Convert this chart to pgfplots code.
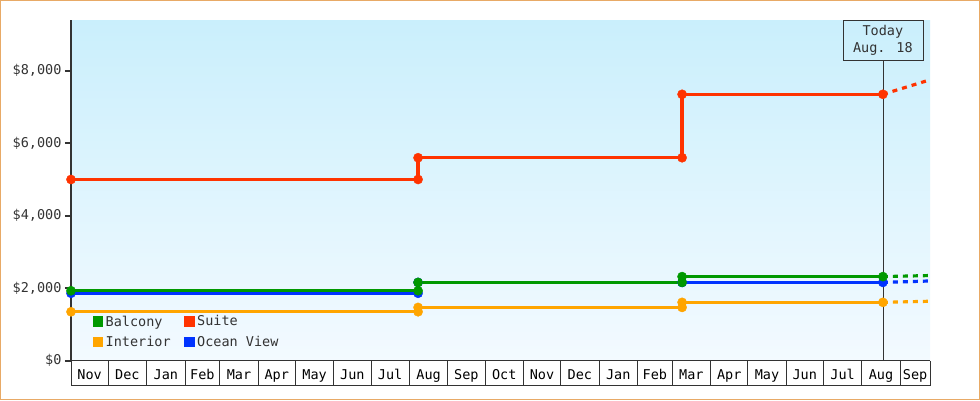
\documentclass[border=0pt]{standalone}
\usepackage{fontspec}
\setmainfont{DejaVu Sans Mono}
\usepackage{pgfplots}
\pgfplotsset{compat=1.18}

\definecolor{balcony}{HTML}{009900}
\definecolor{suite}{HTML}{FF3300}
\definecolor{interior}{HTML}{FFA500}
\definecolor{ocean}{HTML}{0033FF}
\definecolor{axisgray}{HTML}{333333}
\definecolor{bgtop}{HTML}{CAEFFC}
\definecolor{bgbot}{HTML}{F3FAFF}
\definecolor{frame}{HTML}{E8AA66}

\newcommand{\lblfont}{\fontsize{13.5pt}{17pt}\selectfont}

\begin{document}
\begin{tikzpicture}
\useasboundingbox (-71pt,-39.3pt) rectangle (909pt,360.7pt);
\fill[white] (-71pt,-39.3pt) rectangle (909pt,360.7pt);
\draw[frame, line width=1.5pt] (-70.25pt,-38.55pt) rectangle (908.25pt,359.95pt);
\begin{axis}[
  name=ax, at={(0,0)}, anchor=south west,
  scale only axis, width=859pt, height=340.7pt,
  xmin=0, xmax=693, ymin=0, ymax=9400,
  clip=false,
  axis x line*=bottom, axis y line*=left,
  axis line style={-},
  x axis line style={-, line width=0.8pt, color=axisgray},
  y axis line style={-, line width=2pt, color=axisgray},
  tick align=outside,
  major tick length=6pt,
  xtick={0,30,61,92,120,151,181,212,242,273,304,334,365,395,426,457,485,516,546,577,607,638,669,693},
  x tick label as interval,
  xticklabels={Nov,Dec,Jan,Feb,Mar,Apr,May,Jun,Jul,Aug,Sep,Oct,Nov,Dec,Jan,Feb,Mar,Apr,May,Jun,Jul,Aug,Sep},
  x tick style={line width=0.8pt, color=axisgray, /pgfplots/major tick length=25pt},
  y tick style={line width=2pt, color=axisgray},
  ytick={0,2000,4000,6000,8000},
  yticklabels={{\$0},{\$2,000},{\$4,000},{\$6,000},{\$8,000}},
  tick label style={font=\lblfont},
  y tick label style={color=axisgray},
  xticklabel shift=-1pt,
  axis background/.style={top color=bgtop, bottom color=bgbot},
  legend columns=2,
  legend cell align=left,
  legend style={draw=none, fill=none, at={(0.025,0.03)}, anchor=south west,
    font=\lblfont, text=axisgray, inner sep=0pt, row sep=5pt,
    nodes={inner xsep=2.5pt, inner ysep=2pt},
    /tikz/every even column/.append style={column sep=11pt}},
  legend image code/.code={\fill[#1, draw=none] (0pt,-5pt) rectangle (10.5pt,5.5pt);},
]
\draw[axisgray, line width=0.8pt] (axis cs:655,0) -- (axis cs:655,8300);
\coordinate (today) at (axis cs:655,9400);

% Suite
\addplot[suite, line width=3.2pt, mark=*, mark size=4.6pt, mark options={line width=0.4pt}, forget plot]
  coordinates {(0,5000) (280,5000) (280,5600) (493,5600) (493,7350) (655,7350)};
\addplot[suite, line width=3.2pt, dash pattern=on 5pt off 5pt, forget plot]
  coordinates {(655,7350) (693,7750)};
% Interior
\addplot[interior, line width=3.2pt, mark=*, mark size=4.6pt, mark options={line width=0.4pt}, forget plot]
  coordinates {(0,1350) (280,1350) (280,1470) (493,1470) (493,1610) (655,1610)};
\addplot[interior, line width=3.2pt, dash pattern=on 5pt off 5pt, forget plot]
  coordinates {(655,1610) (693,1640)};
% Ocean View
\addplot[ocean, line width=3.2pt, mark=*, mark size=4.6pt, mark options={line width=0.4pt}, forget plot]
  coordinates {(0,1860) (280,1860) (280,2160) (493,2160) (493,2160) (655,2160)};
\addplot[ocean, line width=3.2pt, dash pattern=on 5pt off 5pt, forget plot]
  coordinates {(655,2160) (693,2200)};
% Balcony
\addplot[balcony, line width=3.2pt, mark=*, mark size=4.6pt, mark options={line width=0.4pt}, forget plot]
  coordinates {(0,1930) (280,1930) (280,2160) (493,2160) (493,2320) (655,2320)};
\addplot[balcony, line width=3.2pt, dash pattern=on 5pt off 5pt, forget plot]
  coordinates {(655,2320) (693,2350)};

\addlegendimage{fill=balcony}
\addlegendentry{Balcony}
\addlegendimage{fill=suite}
\addlegendentry{Suite}
\addlegendimage{fill=interior}
\addlegendentry{Interior}
\addlegendimage{fill=ocean}
\addlegendentry{Ocean View}
\end{axis}
\draw[axisgray, line width=0.8pt] ([yshift=-25pt]ax.south west) -- ([yshift=-25pt]ax.south east);
\node[draw=axisgray, line width=0.8pt, anchor=north, minimum width=80pt, minimum height=40pt,
  align=center, font=\lblfont, text=axisgray, inner sep=2pt] at (today) {Today\\Aug. 18};
\end{tikzpicture}
\end{document}
